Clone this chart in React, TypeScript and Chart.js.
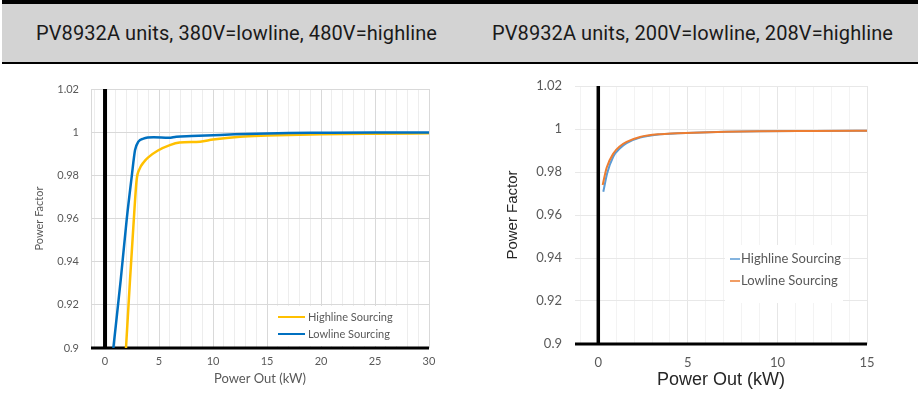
import React, { useEffect, useRef } from 'react';
import { Chart, registerables } from 'chart.js';
Chart.register(...registerables);

// ---------- Titles ----------
const leftTitle = 'PV8932A units, 380V=lowline, 480V=highline';
const rightTitle = 'PV8932A units, 200V=lowline, 208V=highline';

// ---------- Shared axis values ----------
const yTickValues = [0.9, 0.92, 0.94, 0.96, 0.98, 1, 1.02];
const yMin = 0.9;
const yMax = 1.02;
const xMin = -1.3;
const leftXMax = 30;
const rightXMax = 15;
const xMajorStep = 5;

// ---------- Left chart: 380V lowline / 480V highline ----------
const leftHighLabel = 'Highline Sourcing';
const leftHighX = [1.94, 2.3, 2.62, 2.93, 3.2, 3.6, 4.0, 4.9, 6.0, 6.9, 8.8, 10, 12.5, 15, 20, 25, 30];
const leftHighY = [0.9, 0.9305, 0.956, 0.978, 0.983, 0.9862, 0.9883, 0.9915, 0.994, 0.9952, 0.9956, 0.9966, 0.9979, 0.9984, 0.999, 0.9993, 0.9995];

const leftLowLabel = 'Lowline Sourcing';
const leftLowX = [0.77, 1.45, 2.0, 2.47, 2.78, 3.09, 3.55, 4.5, 5.9, 6.6, 8, 10, 12, 15, 17, 20, 25, 30];
const leftLowY = [0.9, 0.9315, 0.9593, 0.9794, 0.9917, 0.9956, 0.997, 0.9976, 0.9974, 0.9979, 0.9982, 0.9986, 0.999, 0.9994, 0.9996, 0.9997, 0.9998, 0.9998];

// ---------- Right chart: 200V lowline / 208V highline ----------
const rightHighLabel = 'Highline Sourcing';
const rightHighX = [0.28, 0.5, 0.84, 1.21, 1.58, 2.33, 3.44, 5.3, 9.0, 12, 15];
const rightHighY = [0.9708, 0.9795, 0.9872, 0.991, 0.9934, 0.996, 0.9975, 0.9983, 0.999, 0.9991, 0.9992];

const rightLowLabel = 'Lowline Sourcing';
const rightLowX = [0.245, 0.47, 0.84, 1.21, 1.58, 2.33, 3.44, 5.3, 9.0, 12, 15];
const rightLowY = [0.974, 0.9821, 0.9886, 0.992, 0.994, 0.9963, 0.9976, 0.9983, 0.999, 0.9991, 0.9992];

const zip = (xs: number[], ys: number[]) => xs.map((x, i) => ({ x, y: ys[i] }));

const gridValues = (max: number) => {
  const out: number[] = [];
  for (let v = -1; v <= max; v++) out.push(v);
  return out;
};

// Legend drawn inside the plot area, with white background box
const insideLegend = {
  id: 'insideLegend',
  afterDatasetsDraw(chart: any, _args: any, opts: any) {
    const { ctx, chartArea } = chart;
    const ox = chartArea.left;
    const oy = chartArea.top;
    ctx.save();
    ctx.fillStyle = '#ffffff';
    ctx.fillRect(ox + opts.box[0], oy + opts.box[1], opts.box[2], opts.box[3]);
    ctx.font = opts.font;
    ctx.textBaseline = 'middle';
    ctx.textAlign = 'left';
    opts.items.forEach((idx: number, row: number) => {
      const ds = chart.data.datasets[idx];
      const y = oy + opts.rowY[row];
      ctx.strokeStyle = ds.borderColor;
      ctx.lineWidth = opts.lineWidth;
      ctx.beginPath();
      ctx.moveTo(ox + opts.lineX0, y);
      ctx.lineTo(ox + opts.lineX1, y);
      ctx.stroke();
      ctx.fillStyle = opts.textColor;
      ctx.fillText(ds.label, ox + opts.textX, y);
    });
    ctx.restore();
  },
};

// Heavy black axes at x = 0 and y = min
const heavyAxes = {
  id: 'heavyAxes',
  beforeDatasetsDraw(chart: any, _args: any, opts: any) {
    const { ctx, chartArea, scales } = chart;
    const x0 = scales.x.getPixelForValue(0);
    const yb = scales.y.getPixelForValue(yMin);
    ctx.save();
    ctx.strokeStyle = '#000';
    ctx.lineWidth = opts.vWidth;
    ctx.beginPath();
    ctx.moveTo(x0, chartArea.top);
    ctx.lineTo(x0, chartArea.bottom);
    ctx.stroke();
    ctx.lineWidth = opts.hWidth;
    ctx.beginPath();
    ctx.moveTo(chartArea.left, yb);
    ctx.lineTo(chartArea.right, yb);
    ctx.stroke();
    ctx.restore();
  },
};

type Spec = {
  xMax: number;
  datasets: any[];
  yWidth: number;
  xHeight: number;
  padTop: number;
  padRight: number;
  tickFont: any;
  tickColor: string;
  yTickPad: number;
  xTickPad: number;
  yTitle: any;
  xTitle: any;
  hGrid: string;
  vMajor: string;
  vMinor: string;
  yBorder: boolean;
  legend: any;
  axes: any;
};

function makeConfig(s: Spec): any {
  const xg = gridValues(s.xMax);
  return {
    type: 'line',
    data: { datasets: s.datasets },
    options: {
      animation: false,
      responsive: false,
      devicePixelRatio: 1,
      layout: { padding: { top: s.padTop, right: s.padRight, left: 0, bottom: 0 } },
      plugins: {
        legend: { display: false },
        tooltip: { enabled: false },
        insideLegend: s.legend,
        heavyAxes: s.axes,
      },
      elements: { point: { radius: 0 } },
      scales: {
        x: {
          type: 'linear',
          min: xMin,
          max: s.xMax,
          afterBuildTicks: (scale: any) => {
            scale.ticks = xg.map((v) => ({ value: v }));
          },
          afterFit: (scale: any) => {
            scale.height = s.xHeight;
          },
          ticks: {
            autoSkip: false,
            maxRotation: 0,
            padding: s.xTickPad,
            color: s.tickColor,
            font: s.tickFont,
            callback: (v: number) => (v >= 0 && v % xMajorStep === 0 ? String(v) : ''),
          },
          grid: {
            drawTicks: false,
            color: (c: any) => (c.tick && c.tick.value % xMajorStep === 0 ? s.vMajor : s.vMinor),
            lineWidth: 1,
          },
          border: { display: false },
          title: s.xTitle,
        },
        y: {
          type: 'linear',
          min: yMin,
          max: yMax,
          afterBuildTicks: (scale: any) => {
            scale.ticks = yTickValues.map((v) => ({ value: v }));
          },
          afterFit: (scale: any) => {
            scale.width = s.yWidth;
          },
          ticks: {
            padding: s.yTickPad,
            color: s.tickColor,
            font: s.tickFont,
            callback: (v: number) => String(Number(v.toFixed(2))),
          },
          grid: { drawTicks: false, color: s.hGrid, lineWidth: 1 },
          border: { display: s.yBorder, color: s.hGrid },
          title: s.yTitle,
        },
      },
    },
    plugins: [heavyAxes, insideLegend],
  };
}

const lineDs = (label: string, xs: number[], ys: number[], color: string, width: number, order: number) => ({
  label,
  data: zip(xs, ys),
  borderColor: color,
  backgroundColor: color,
  borderWidth: width,
  cubicInterpolationMode: 'monotone',
  pointRadius: 0,
  fill: false,
  order,
});

const leftSpec: Spec = {
  xMax: leftXMax,
  datasets: [
    lineDs(leftHighLabel, leftHighX, leftHighY, '#FFC000', 2.5, 1),
    lineDs(leftLowLabel, leftLowX, leftLowY, '#0070C0', 2.5, 0),
  ],
  yWidth: 91,
  xHeight: 67,
  padTop: 25,
  padRight: 31,
  tickFont: { family: 'Lato', size: 11 },
  tickColor: '#595959',
  yTickPad: 12,
  xTickPad: 7,
  yTitle: {
    display: true,
    text: 'Power Factor',
    color: '#595959',
    font: { family: 'Lato', size: 11 },
    padding: { top: 33, bottom: 0 },
  },
  xTitle: {
    display: true,
    text: 'Power Out (kW)',
    color: '#595959',
    font: { family: 'Lato', size: 13 },
    padding: { top: 0, bottom: 28 },
  },
  hGrid: '#D9D9D9',
  vMajor: '#D9D9D9',
  vMinor: '#EDEDED',
  yBorder: true,
  legend: {
    box: [182, 217, 130, 40],
    lineX0: 187,
    lineX1: 214,
    textX: 217,
    rowY: [228, 245],
    items: [0, 1],
    font: '11px Lato',
    textColor: '#595959',
    lineWidth: 2,
  },
  axes: { vWidth: 4, hWidth: 3 },
};

const rightSpec: Spec = {
  xMax: rightXMax,
  datasets: [
    lineDs(rightHighLabel, rightHighX, rightHighY, '#5B9BD5', 2, 1),
    lineDs(rightLowLabel, rightLowX, rightLowY, '#ED7D31', 2, 0),
  ],
  yWidth: 115,
  xHeight: 71,
  padTop: 22,
  padRight: 56,
  tickFont: { family: 'Lato', size: 13 },
  tickColor: '#595959',
  yTickPad: 13,
  xTickPad: 11,
  yTitle: {
    display: true,
    text: 'Power Factor',
    color: '#262626',
    font: { family: 'Liberation Sans', size: 15 },
    padding: { top: 44, bottom: 0 },
  },
  xTitle: {
    display: true,
    text: 'Power Out (kW)',
    color: '#262626',
    font: { family: 'Liberation Sans', size: 18 },
    padding: { top: 0, bottom: 24 },
  },
  hGrid: '#E8E8E8',
  vMajor: '#E6E6E6',
  vMinor: '#F3F3F3',
  yBorder: false,
  legend: {
    box: [150, 159, 118, 58],
    lineX0: 155,
    lineX1: 165,
    textX: 166,
    rowY: [173, 195],
    items: [0, 1],
    font: '13px Lato',
    textColor: '#595959',
    lineWidth: 1.5,
  },
  axes: { vWidth: 3.5, hWidth: 3 },
};

function ChartCanvas({ spec, left, top, width, height }: { spec: Spec; left: number; top: number; width: number; height: number }) {
  const ref = useRef<HTMLCanvasElement>(null);
  useEffect(() => {
    const chart = new Chart(ref.current as HTMLCanvasElement, makeConfig(spec));
    return () => chart.destroy();
  }, [spec]);
  return (
    <canvas
      ref={ref}
      width={width}
      height={height}
      style={{ position: 'absolute', left, top, width, height, display: 'block' }}
    />
  );
}

const titleFontSize = 20;
const titleFamily = 'Roboto';
const titleTargetWidth = 401;

function spacingFor(text: string): number {
  try {
    const c = document.createElement('canvas').getContext('2d');
    if (!c) return 0;
    c.font = `${titleFontSize}px ${titleFamily}`;
    const w = c.measureText(text).width;
    return (titleTargetWidth - w) / text.length;
  } catch {
    return 0;
  }
}

export default function App() {
  const titleStyle = (left: number, text: string): React.CSSProperties => ({
    position: 'absolute',
    left,
    top: 23,
    fontFamily: titleFamily,
    fontSize: titleFontSize,
    lineHeight: `${titleFontSize}px`,
    color: '#1A1A1A',
    whiteSpace: 'nowrap',
    letterSpacing: `${spacingFor(text)}px`,
  });
  return (
    <div
      style={{
        position: 'fixed',
        left: 0,
        top: 0,
        width: 923,
        height: 415,
        background: '#ffffff',
        overflow: 'hidden',
      }}
    >
      <div
        style={{
          position: 'absolute',
          left: 2,
          top: 0,
          width: 916,
          height: 64,
          boxSizing: 'border-box',
          borderTop: '4px solid #000',
          borderBottom: '2px solid #000',
          background: '#D3D3D3',
        }}
      />
      <div style={titleStyle(36, leftTitle)}>{leftTitle}</div>
      <div style={titleStyle(492, rightTitle)}>{rightTitle}</div>
      <ChartCanvas spec={leftSpec} left={0} top={64} width={460} height={351} />
      <ChartCanvas spec={rightSpec} left={460} top={64} width={463} height={351} />
    </div>
  );
}
